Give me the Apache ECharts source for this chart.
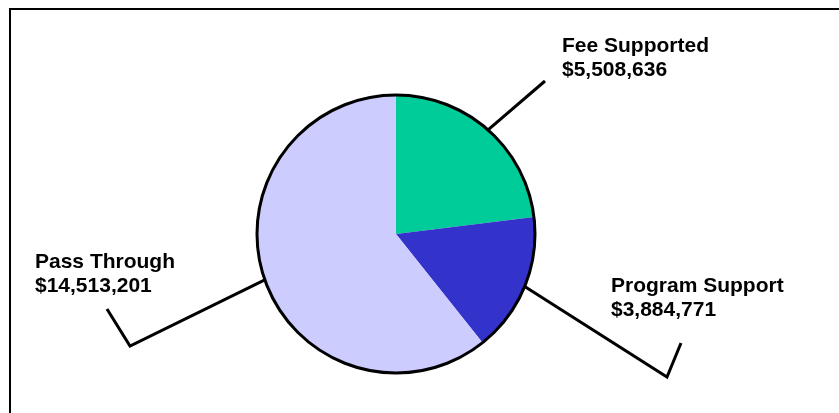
<!DOCTYPE html>
<html>
<head>
<meta charset="utf-8">
<script src="https://cdn.jsdelivr.net/npm/echarts@6/dist/echarts.min.js"></script>
<style>
  html, body { margin: 0; padding: 0; background: #fff; }
  #main { width: 839px; height: 413px; }
</style>
</head>
<body>
<div id="main"></div>
<script>
// 数据
let categories = ['Fee Supported', 'Program Support', 'Pass Through']
let amounts = [5508636, 3884771, 14513201]
let colors = ['#00CC99', '#3333CC', '#CCCCFF']

// 饼图位置
let pieCenter = [396, 234]
let pieRadius = 139

// 标签位置 / 引线拐点
let labelPos = [
  { x: 562, y: 34 },
  { x: 611, y: 274 },
  { x: 35, y: 250 }
]
let linePts = [
  [[545, 81]],
  [[667, 377], [681, 343]],
  [[130, 346], [107, 309]]
]

let series_data = []
for (let i = 0; i < categories.length; i++) {
  series_data.push({
    value: amounts[i],
    name: categories[i],
    itemStyle: { color: colors[i] }
  })
}

function edgePoint(idx) {
  let total = 0
  for (let i = 0; i < amounts.length; i++) total += amounts[i]
  let before = 0
  for (let i = 0; i < idx; i++) before += amounts[i]
  let mid = (before + amounts[idx] / 2) / total * Math.PI * 2
  return [pieCenter[0] + pieRadius * Math.sin(mid), pieCenter[1] - pieRadius * Math.cos(mid)]
}

let chart = echarts.init(document.getElementById('main'), null, { renderer: 'canvas' })

let option = {
  animation: false,
  backgroundColor: '#fff',
  textStyle: { fontFamily: 'Liberation Sans' },
  graphic: [
    {
      type: 'rect',
      shape: { x: 10, y: 9, width: 900, height: 500 },
      style: { fill: 'none', stroke: '#000', lineWidth: 2 },
      silent: true
    },
    {
      type: 'circle',
      z: 100,
      shape: { cx: pieCenter[0], cy: pieCenter[1], r: pieRadius },
      style: { fill: 'none', stroke: '#000', lineWidth: 3 },
      silent: true
    }
  ],
  series: [
    {
      name: 'Funding',
      type: 'pie',
      center: pieCenter,
      radius: pieRadius,
      startAngle: 90,
      clockwise: true,
      avoidLabelOverlap: false,
      itemStyle: { borderWidth: 0 },
      label: {
        show: true,
        position: 'outside',
        color: '#000',
        fontFamily: 'Liberation Sans',
        fontWeight: 'bold',
        fontSize: 21,
        lineHeight: 24,
        formatter: function (p) {
          return p.name + '\n$' + p.value.toLocaleString('en-US')
        }
      },
      labelLine: {
        show: true,
        lineStyle: { color: '#000', width: 3 }
      },
      labelLayout: function (params) {
        let i = params.dataIndex
        let start = edgePoint(i)
        let pts = [start].concat(linePts[i])
        return {
          x: labelPos[i].x,
          y: labelPos[i].y,
          align: 'left',
          verticalAlign: 'top',
          labelLinePoints: pts
        }
      },
      emphasis: { disabled: true },
      data: series_data
    }
  ]
}

chart.setOption(option)
</script>
</body>
</html>
